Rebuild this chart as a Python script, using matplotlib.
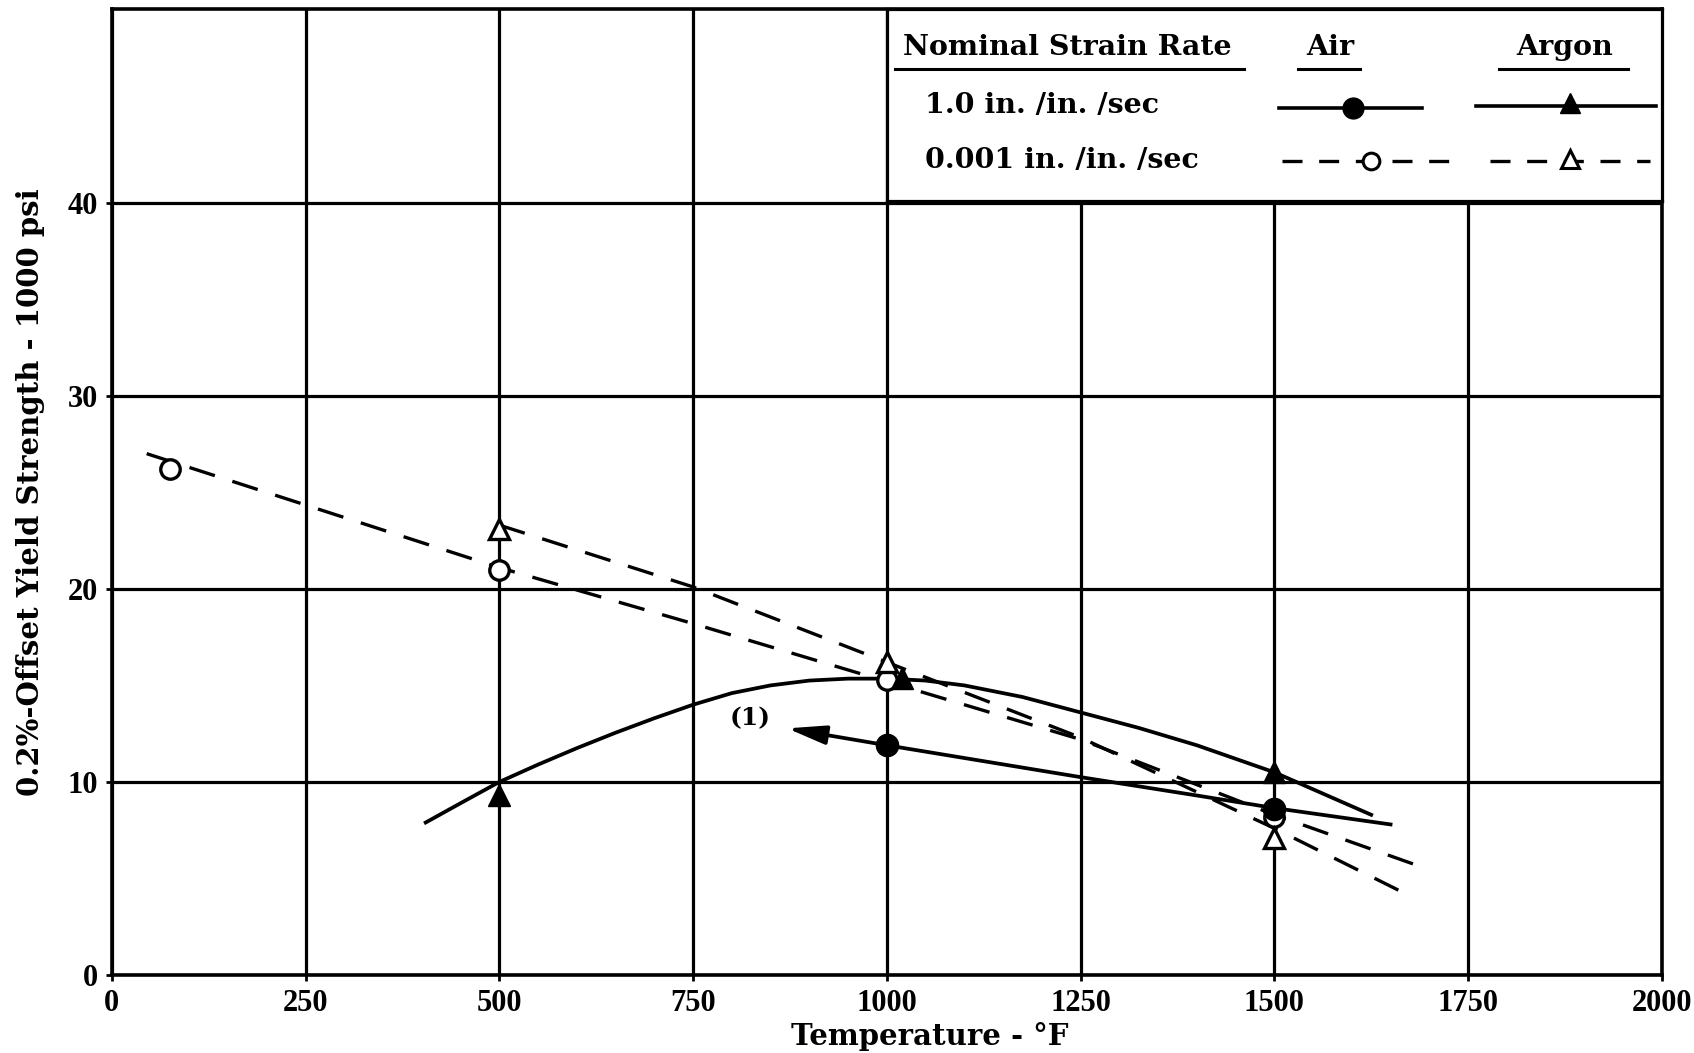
import numpy as np
import matplotlib.pyplot as plt

# data (temperature F, yield strength ksi)
air_slow_T = [75, 500, 1000, 1500]
air_slow_S = [26.2, 21.0, 15.3, 8.2]
argon_slow_T = [500, 1000, 1500]
argon_slow_S = [23.1, 16.2, 7.1]
air_fast_T = [1000, 1500]
air_fast_S = [11.9, 8.6]
argon_fast_T = [500, 1020, 1500]
argon_fast_S = [9.35, 15.4, 10.5]

# faired curves, points
air_slow_curve_T = [45, 500, 750, 1000, 1250, 1500, 1690]
air_slow_curve_S = [27.0, 21.1, 18.2, 15.2, 12.2, 8.3, 5.6]
argon_slow_curve_T = [500, 750, 1000, 1250, 1500, 1670]
argon_slow_curve_S = [23.3, 20.1, 16.2, 12.3, 7.6, 4.2]
air_fast_curve_T = [1000, 1250, 1400, 1500, 1650]
air_fast_curve_S = [11.9, 10.25, 9.3, 8.65, 7.8]
argon_fast_curve_T = [405, 450, 500, 550, 600, 650, 700, 750, 800, 850, 900, 950,
                      1000, 1050, 1100, 1175, 1250, 1325, 1400, 1500, 1625]
argon_fast_curve_S = [7.9, 8.9, 10.0, 10.9, 11.75, 12.55, 13.3, 14.0, 14.6, 15.0, 15.25, 15.35,
                      15.35, 15.25, 15.0, 14.4, 13.6, 12.8, 11.9, 10.5, 8.3]

x_ticks = [0, 250, 500, 750, 1000, 1250, 1500, 1750, 2000]
y_ticks = [0, 10, 20, 30, 40]

tick_font = 'Liberation Serif'
text_font = 'DejaVu Serif'
plt.rcParams['font.family'] = tick_font
plt.rcParams['font.weight'] = 'bold'

fig = plt.figure(figsize=(16.94, 10.53), dpi=100)
ax = fig.add_axes([0.066, 0.074, 0.915, 0.917])
ax.set_xlim(0, 2000)
ax.set_ylim(0, 50)
ax.set_xticks(x_ticks)
ax.set_yticks(y_ticks)
ax.tick_params(labelsize=22, width=2, length=4, pad=6)
for lab in ax.get_xticklabels() + ax.get_yticklabels():
    lab.set_fontweight('bold')
ax.grid(True, color='k', lw=2.3)
ax.set_axisbelow(True)
for s in ax.spines.values():
    s.set_linewidth(2.6)

ax.set_xlabel('Temperature - °F', fontsize=21, fontweight='bold', family=text_font)
ax.xaxis.set_label_coords(0.528, -0.049)
ax.set_ylabel('0.2%-Offset Yield Strength - 1000 psi', fontsize=21, fontweight='bold',
              family=text_font)
ax.yaxis.set_label_coords(-0.043, 0.5)

dash = (8, 5.5)
ax.plot(air_slow_curve_T, air_slow_curve_S, color='k', lw=2.4, dashes=dash)
ax.plot(argon_slow_curve_T, argon_slow_curve_S, color='k', lw=2.4, dashes=dash)
ax.plot(air_fast_curve_T, air_fast_curve_S, color='k', lw=2.7)
ax.plot(argon_fast_curve_T, argon_fast_curve_S, color='k', lw=2.7)

ax.plot(air_slow_T, air_slow_S, 'o', ms=14, mfc='white', mec='k', mew=2.4)
ax.plot(argon_slow_T, argon_slow_S, '^', ms=15, mfc='white', mec='k', mew=2.4)
ax.plot(air_fast_T, air_fast_S, 'o', ms=16, color='k')
ax.plot(argon_fast_T, argon_fast_S, '^', ms=16, color='k')

ax.annotate('', xy=(868, 12.8), xytext=(1000, 11.9),
            arrowprops=dict(arrowstyle='-|>,head_length=0.9,head_width=0.22', lw=2.7,
                            color='k', mutation_scale=26))
ax.text(823, 13.3, '(1)', fontsize=18, fontweight='bold', ha='center', va='center',
        family=text_font)

# legend box
lg = ax.inset_axes([1000, 40.1, 1000, 9.9], transform=ax.transData)
lg.set_xlim(0, 1)
lg.set_ylim(0, 1)
lg.set_xticks([])
lg.set_yticks([])
lg.set_facecolor('white')
for s in lg.spines.values():
    s.set_linewidth(2.3)
lfs = 20.5
lg.text(0.021, 0.80, 'Nominal Strain Rate', fontsize=lfs, va='center', ha='left', family=text_font)
lg.text(0.572, 0.80, 'Air', fontsize=lfs, va='center', ha='center', family=text_font)
lg.text(0.874, 0.80, 'Argon', fontsize=lfs, va='center', ha='center', family=text_font)
lg.plot([0.01, 0.461], [0.69, 0.69], color='k', lw=2.2)
lg.plot([0.531, 0.61], [0.69, 0.69], color='k', lw=2.2)
lg.plot([0.79, 0.957], [0.69, 0.69], color='k', lw=2.2)
lg.text(0.049, 0.497, '1.0 in. /in. /sec', fontsize=lfs, va='center', ha='left', family=text_font)
lg.text(0.049, 0.211, '0.001 in. /in. /sec', fontsize=lfs, va='center', ha='left', family=text_font)
lg.plot([0.506, 0.69], [0.486, 0.486], color='k', lw=2.6)
lg.plot([0.601], [0.486], 'o', ms=15, color='k')
lg.plot([0.76, 0.992], [0.497, 0.497], color='k', lw=2.6)
lg.plot([0.882], [0.51], '^', ms=15, color='k')
lg.plot([0.51, 0.725], [0.206, 0.206], color='k', lw=2.4, dashes=(6, 5))
lg.plot([0.625], [0.206], 'o', ms=12, mfc='white', mec='k', mew=2.2)
lg.plot([0.778, 0.985], [0.206, 0.206], color='k', lw=2.4, dashes=(6, 5))
lg.plot([0.882], [0.22], '^', ms=13, mfc='white', mec='k', mew=2.2)

fig.savefig('out.png', dpi=100)
